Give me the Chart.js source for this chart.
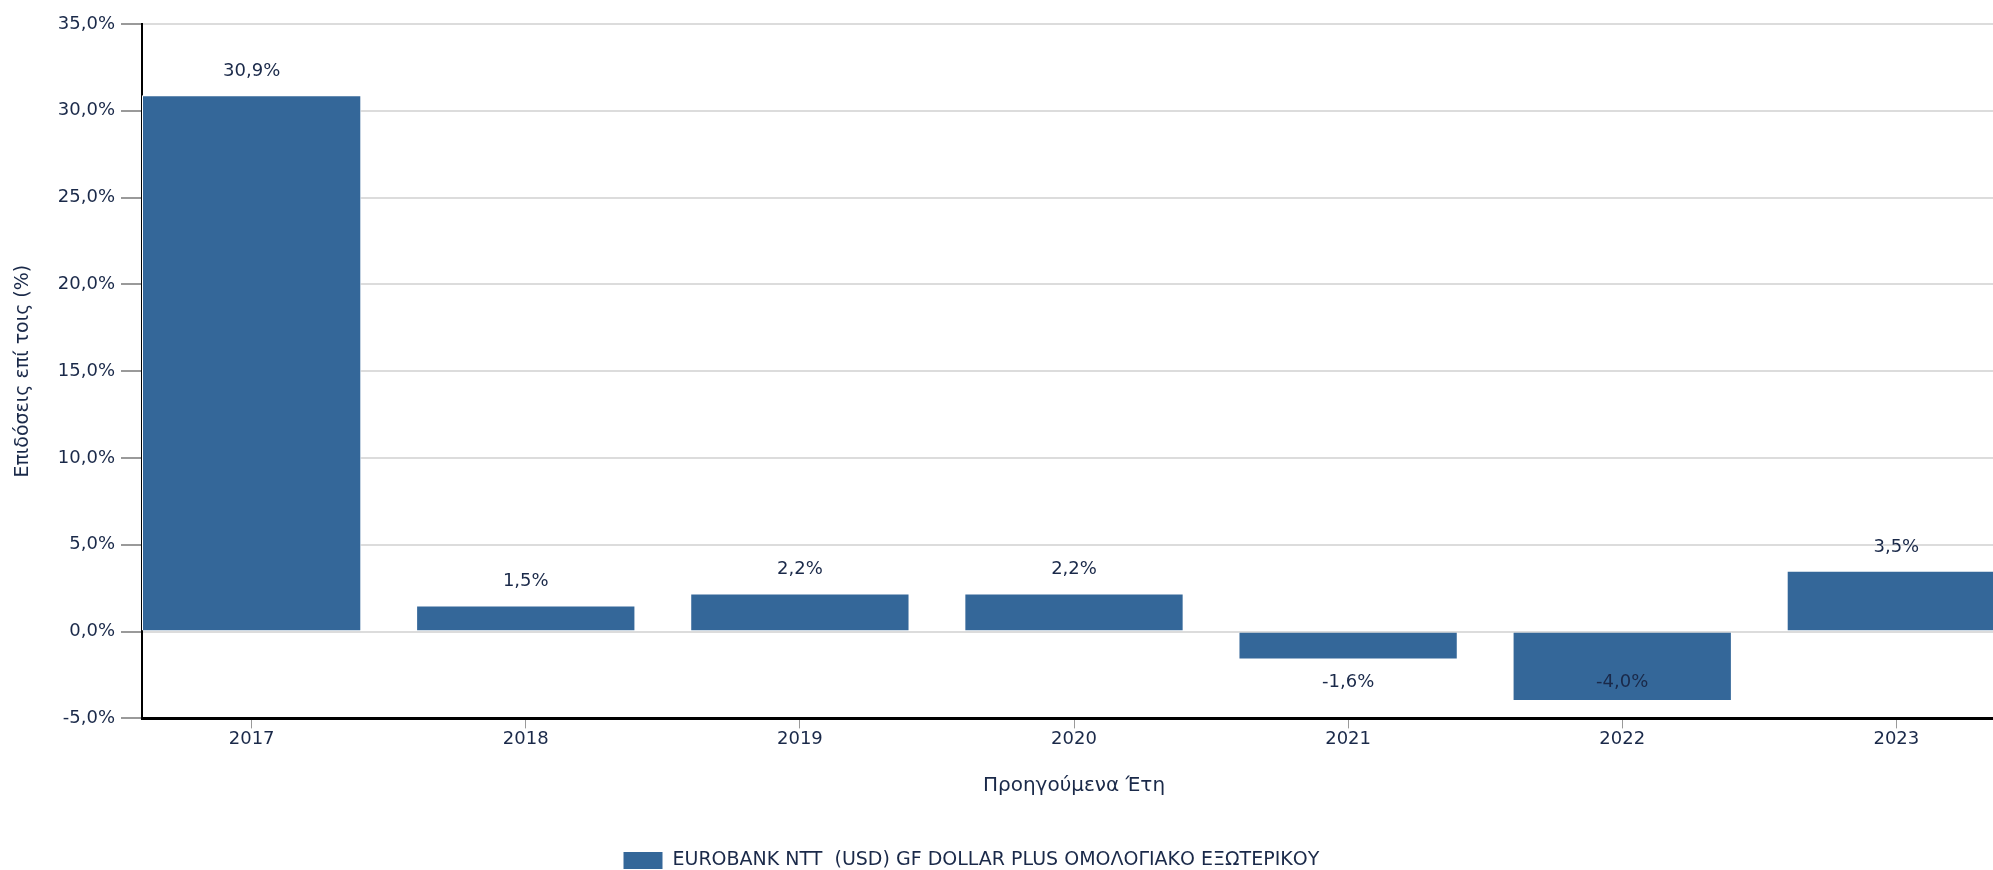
<!DOCTYPE html>
<html lang="el">
<head>
<meta charset="utf-8">
<title>Επιδόσεις επί τοις (%)</title>
<script src="https://cdn.jsdelivr.net/npm/chart.js@4.4.1/dist/chart.umd.min.js"></script>
<style>
  html, body { margin: 0; padding: 0; background: #fff; overflow: hidden; }
  #wrap { position: relative; width: 2006px; height: 870px; }
</style>
</head>
<body>
<div id="wrap"><canvas id="chart-returns"></canvas></div>
<script>
// Annual returns – EUROBANK NTT (USD) GF DOLLAR PLUS

const years   = ["2017", "2018", "2019", "2020", "2021", "2022", "2023"];
const returns = [30.9, 1.5, 2.2, 2.2, -1.6, -4.0, 3.5];
const yTicks  = [-5, 0, 5, 10, 15, 20, 25, 30, 35];

const seriesName = "EUROBANK NTT  (USD) GF DOLLAR PLUS ΟΜΟΛΟΓΙΑΚΟ ΕΞΩΤΕΡΙΚΟΥ";
const yTitle     = "Επιδόσεις επί τοις (%)";
const xTitle     = "Προηγούμενα Έτη";

const BAR_COLOR  = "#346799";
const TEXT_COLOR = "#1a2949";
const FONT       = "'DejaVu Sans', sans-serif";

const pct = v => v.toFixed(1).replace(".", ",") + "%";

/* ──────────────────────────────────────────────────────────────
   Value labels above / below each bar
   ────────────────────────────────────────────────────────────── */
const valueLabels = {
  id: "valueLabels",
  afterDatasetsDraw(chart) {
    const { ctx, chartArea } = chart;
    const meta = chart.getDatasetMeta(0);
    ctx.save();
    ctx.font = `18px ${FONT}`;
    ctx.fillStyle = TEXT_COLOR;
    ctx.textAlign = "center";
    ctx.textBaseline = "middle";
    meta.data.forEach((bar, i) => {
      const v = returns[i];
      let y = v >= 0 ? bar.y - 24 : bar.y + 23;
      // no room below the bar -> keep label inside it
      if (v < 0) y = Math.min(y, chartArea.bottom - 36);
      ctx.fillText(pct(v), bar.x, y);
    });
    ctx.restore();
  },
};

/* ──────────────────────────────────────────────────────────────
   Legend in the original sits left of centre and close to the
   bottom edge – nudge it there after layout
   ────────────────────────────────────────────────────────────── */
const legendNudge = {
  id: "legendNudge",
  afterLayout(chart) {
    const lg  = chart.legend;
    const pad = lg.options.labels.padding;
    const x0  = (lg.left + pad + lg.right - lg.lineWidths[0]) / 2;
    const dx  = 623 - x0;
    lg.left += dx;  lg.right  += dx;
    lg.top  += 10;  lg.bottom += 10;
  },
};

const ctx = document.getElementById("chart-returns").getContext("2d");

new Chart(ctx, {
  type: "bar",
  data: {
    datasets: [{
      label: seriesName,
      data: returns.map((v, i) => ({ x: i, y: v })),
      backgroundColor: BAR_COLOR,
      borderColor: "#ffffff",
      borderWidth: 1,
      categoryPercentage: 1,
      barPercentage: 0.8,
    }],
  },
  options: {
    responsive: true, maintainAspectRatio: false,
    animation: false,
    layout: { padding: { top: 24, left: 0, right: 0, bottom: 0 } },
    plugins: {
      legend: {
        position: "bottom",
        labels: {
          color: TEXT_COLOR,
          font: { size: 19, family: FONT },
          boxWidth: 40, boxHeight: 18,
          padding: 4,
        },
      },
      tooltip: { enabled: false },
    },
    scales: {
      x: {
        type: "linear",
        min: -0.4, max: 6.4,
        offset: false,
        afterBuildTicks: s => { s.ticks = years.map((_, i) => ({ value: i })); },
        ticks: {
          color: TEXT_COLOR,
          font: { size: 18, family: FONT },
          padding: 0,
          maxRotation: 0,
          callback: v => years[v] ?? "",
        },
        grid: {
          offset: false,
          drawOnChartArea: false,
          tickLength: 10,
          tickColor: "#9a9a9a",
          tickWidth: 1,
        },
        border: { color: "#000", width: 3 },
        title: {
          display: true,
          text: xTitle,
          color: TEXT_COLOR,
          font: { size: 20, family: FONT },
          padding: { top: 24, bottom: 39 },
        },
      },
      y: {
        min: -5, max: 35,
        afterBuildTicks: s => { s.ticks = yTicks.map(v => ({ value: v })); },
        afterFit: s => { s.width = 142; },
        ticks: {
          color: TEXT_COLOR,
          font: { size: 18, family: FONT },
          padding: 6,
          callback: v => pct(v),
        },
        grid: {
          color: "#dcdcdc",
          lineWidth: 2,
          tickLength: 21,
          tickColor: "#9a9a9a",
          tickWidth: 2,
        },
        border: { color: "#000", width: 2 },
        title: {
          display: true,
          text: yTitle,
          color: TEXT_COLOR,
          font: { size: 19, family: FONT },
          padding: { top: 12, bottom: 0 },
        },
      },
    },
  },
  plugins: [valueLabels, legendNudge],
});
</script>
</body>
</html>
